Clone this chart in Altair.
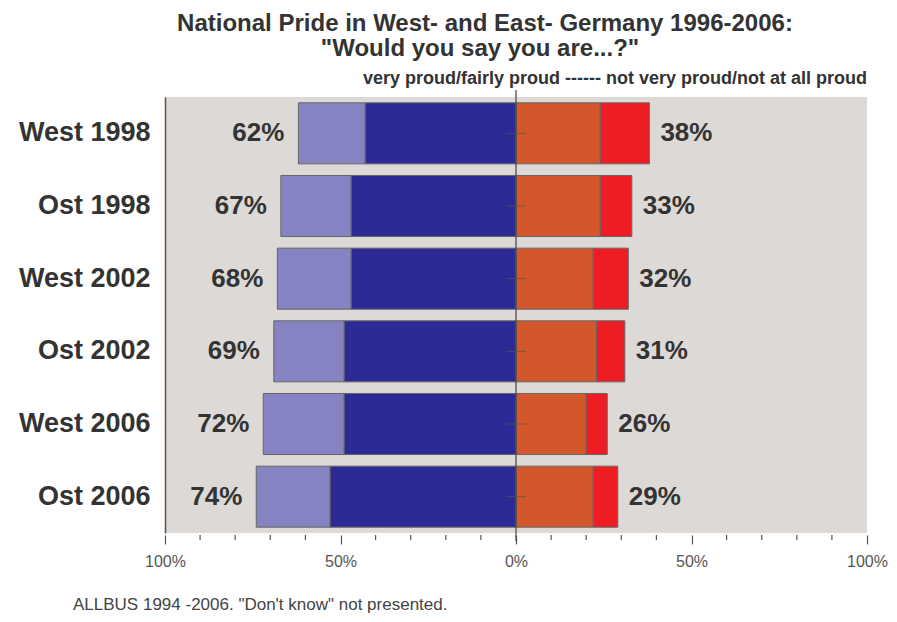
import altair as alt
import pandas as pd

categories = ["West 1998", "Ost 1998", "West 2002", "Ost 2002", "West 2006", "Ost 2006"]
fairly_proud = [43, 47, 47, 49, 49, 53]
very_proud = [19, 20, 21, 20, 23, 21]
not_very_proud = [24, 24, 22, 23, 20, 22]
not_at_all_proud = [14, 9, 10, 8, 6, 7]
major_ticks = [-100, -50, 0, 50, 100]
minor_ticks = [-90, -80, -70, -60, -40, -30, -20, -10, 10, 20, 30, 40, 60, 70, 80, 90]

title1 = "National Pride in West- and East- Germany 1996-2006:"
title2 = "\"Would you say you are...?\""
title3 = "very proud/fairly proud ------    not very proud/not at all proud"
footer = "ALLBUS 1994 -2006. \"Don't know\" not presented."

FONT = "Liberation Sans"
W, H = 702, 436

rows = []
for i, c in enumerate(categories):
    f, v, n, a = fairly_proud[i], very_proud[i], not_very_proud[i], not_at_all_proud[i]
    rows.append(dict(cat=c, seg="fairly", x=0, x2=-f))
    rows.append(dict(cat=c, seg="very", x=-f, x2=-(f + v)))
    rows.append(dict(cat=c, seg="notvery", x=0, x2=n))
    rows.append(dict(cat=c, seg="notatall", x=n, x2=n + a))
bars_df = pd.DataFrame(rows)

lab_df = pd.DataFrame({
    "cat": categories,
    "left": [-(f + v) for f, v in zip(fairly_proud, very_proud)],
    "right": [n + a for n, a in zip(not_very_proud, not_at_all_proud)],
})
lab_df["ltxt"] = [f"{-v}%" for v in lab_df["left"]]
lab_df["rtxt"] = [f"{v}%" for v in lab_df["right"]]

xscale = alt.Scale(domain=[-100, 100], nice=False, zero=False)
yscale = alt.Scale(paddingInner=0.16, paddingOuter=0.08)
ysort = categories

xaxis = alt.Axis(
    values=major_ticks, title=None, grid=False, domain=False,
    labelExpr="abs(datum.value) + '%'",
    labelOverlap=False,
    tickColor="#555555", tickWidth=1.2, tickSize=9,
    labelFontSize=16, labelColor="#555555", labelFont=FONT, labelPadding=9,
    offset=2, labelFlush=False,
)
yaxis = alt.Axis(
    title=None, ticks=False, domain=True, domainColor="#555555", domainWidth=1.5,
    labelFontSize=27, labelFontWeight="bold", labelColor="#333333", labelFont=FONT,
    labelPadding=15,
)

bars = alt.Chart(bars_df).mark_bar(stroke="#666666", strokeWidth=1).encode(
    y=alt.Y("cat:N", sort=ysort, scale=yscale, axis=yaxis),
    x=alt.X("x:Q", scale=xscale, axis=xaxis),
    x2="x2:Q",
    color=alt.Color(
        "seg:N",
        scale=alt.Scale(
            domain=["fairly", "very", "notvery", "notatall"],
            range=["#2C2A94", "#8583C2", "#D4572B", "#EE1D24"],
        ),
        legend=None,
    ),
)

minor = alt.Chart(pd.DataFrame({"m": minor_ticks})).mark_rule(color="#555555", strokeWidth=1.2).encode(
    x=alt.X("m:Q"),
    y=alt.value(H + 2),
    y2=alt.value(H + 7),
)

zero_ticks = alt.Chart(lab_df).mark_tick(orient="horizontal", size=20, thickness=1, color="#555555", opacity=0.7).encode(
    y=alt.Y("cat:N", sort=ysort),
    x=alt.datum(0),
)

zero_rule = alt.Chart(pd.DataFrame({"z": [0]})).mark_rule(color="#444444", strokeWidth=1.2).encode(
    x=alt.X("z:Q"),
    y=alt.value(-7),
    y2=alt.value(H + 8),
)

left_labels = alt.Chart(lab_df).mark_text(
    align="right", baseline="middle", dx=-14, fontSize=26, fontWeight="bold", color="#333333", font=FONT
).encode(y=alt.Y("cat:N", sort=ysort), x="left:Q", text="ltxt:N")

right_labels = alt.Chart(lab_df).mark_text(
    align="left", baseline="middle", dx=11, fontSize=26, fontWeight="bold", color="#333333", font=FONT
).encode(y=alt.Y("cat:N", sort=ysort), x="right:Q", text="rtxt:N")


def txt(s, x, y, size, weight, align="center", color="#333333"):
    return alt.Chart(pd.DataFrame({"t": [s]})).mark_text(
        align=align, baseline="alphabetic", fontSize=size, fontWeight=weight, color=color, font=FONT
    ).encode(text="t:N", x=alt.value(x), y=alt.value(y))


t1 = txt(title1, 320, -66, 24, "bold")
t2 = txt(title2, 315, -41, 24, "bold")
t3 = txt(title3, 702, -13, 18, "bold", align="right")
t4 = txt(footer, -92, 513, 17, "normal", align="left", color="#444444")

chart = alt.layer(bars, minor, zero_ticks, zero_rule, left_labels, right_labels, t1, t2, t3, t4).properties(
    width=W, height=H,
    autosize=alt.AutoSizeParams(type="none"),
    padding={"left": 157, "top": 89, "right": 22, "bottom": 100},
    background="white",
).configure_view(fill="#DDD9D6", stroke=None)

chart.save("out.html", embed_options={"renderer": "svg", "actions": False})
